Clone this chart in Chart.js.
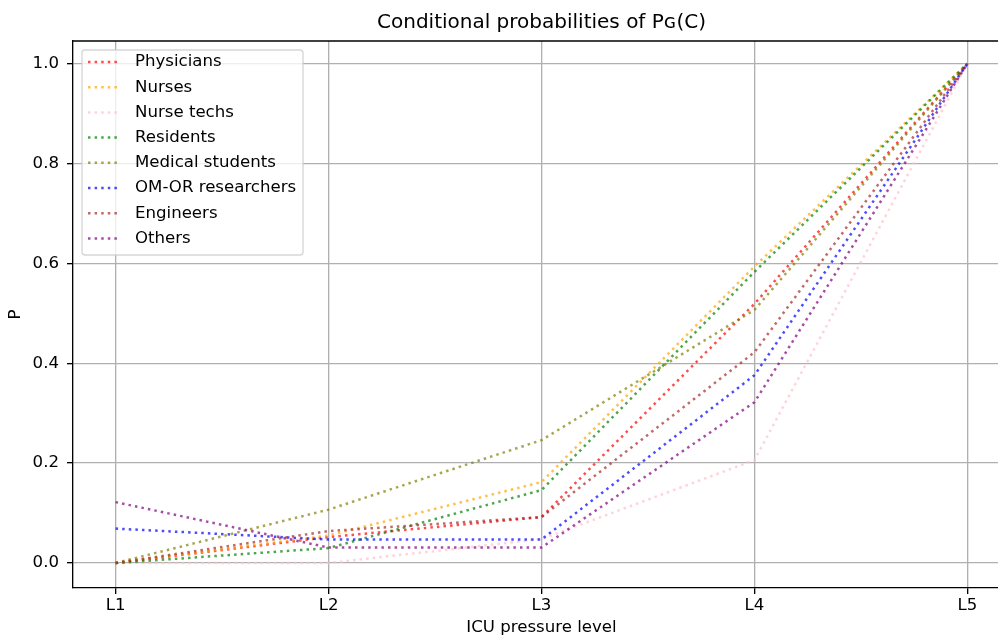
<!DOCTYPE html>
<html><head><meta charset="utf-8">
<script src="https://cdn.jsdelivr.net/npm/chart.js@4"></script>
<style>html,body{margin:0;padding:0;overflow:hidden;background:#fff;width:998px;height:639px}
#wrap{width:998px;height:639px;overflow:hidden;position:relative}
canvas{display:block;position:absolute;left:0;top:0}</style>
</head><body>
<div id="wrap"><canvas id="c" width="1040" height="639" style="width:1040px;height:639px"></canvas></div>
<script>
const levels = ['L1','L2','L3','L4','L5'];
const yTickValues = [0, 0.2, 0.4, 0.6, 0.8, 1.0];
const seriesNames = ['Physicians','Nurses','Nurse techs','Residents','Medical students','OM-OR researchers','Engineers','Others'];
const physicians      = [0.000, 0.052, 0.092, 0.519, 1.0];
const nurses          = [0.000, 0.055, 0.162, 0.594, 1.0];
const nurseTechs      = [0.000, 0.000, 0.048, 0.206, 1.0];
const residents       = [0.000, 0.030, 0.146, 0.583, 1.0];
const medicalStudents = [0.000, 0.107, 0.246, 0.507, 1.0];
const omOrResearchers = [0.069, 0.047, 0.047, 0.376, 1.0];
const engineers       = [0.000, 0.064, 0.092, 0.422, 1.0];
const others          = [0.122, 0.031, 0.031, 0.322, 1.0];
const seriesValues = [physicians, nurses, nurseTechs, residents, medicalStudents, omOrResearchers, engineers, others];
const lineColors = ['rgba(255,0,0,0.7)','rgba(255,165,0,0.7)','rgba(255,192,203,0.7)','rgba(0,128,0,0.7)',
                    'rgba(128,128,0,0.7)','rgba(0,0,255,0.7)','rgba(165,42,42,0.7)','rgba(128,0,128,0.7)'];
const FONT = 'DejaVu Sans';
const FS = 16.6;
const DASH = [2.5, 4.1];

const datasets = seriesNames.map((name, i) => ({
  label: name,
  data: seriesValues[i].map((v, j) => ({x: j, y: v})),
  borderColor: lineColors[i],
  backgroundColor: lineColors[i],
  borderWidth: 2.5,
  borderDash: DASH,
  borderCapStyle: 'butt',
  pointRadius: 0,
  tension: 0,
  fill: false,
  order: seriesNames.length - i
}));

const mplDecor = {
  id: 'mplDecor',
  afterDatasetsDraw(chart) {
    const ctx = chart.ctx, a = chart.chartArea;
    ctx.save();
    // top spine
    ctx.strokeStyle = '#000'; ctx.lineWidth = 1.33;
    ctx.beginPath(); ctx.moveTo(a.left, a.top); ctx.lineTo(a.right, a.top); ctx.stroke();
    // legend
    const x0 = a.left + 9, y0 = a.top + 9, w = 221, h = 205, r = 3;
    ctx.beginPath();
    ctx.moveTo(x0 + r, y0); ctx.lineTo(x0 + w - r, y0); ctx.arcTo(x0 + w, y0, x0 + w, y0 + r, r);
    ctx.lineTo(x0 + w, y0 + h - r); ctx.arcTo(x0 + w, y0 + h, x0 + w - r, y0 + h, r);
    ctx.lineTo(x0 + r, y0 + h); ctx.arcTo(x0, y0 + h, x0, y0 + h - r, r);
    ctx.lineTo(x0, y0 + r); ctx.arcTo(x0, y0, x0 + r, y0, r); ctx.closePath();
    ctx.fillStyle = 'rgba(255,255,255,0.8)'; ctx.fill();
    ctx.strokeStyle = 'rgba(204,204,204,0.8)'; ctx.lineWidth = 1.33; ctx.stroke();
    ctx.font = FS + 'px "' + FONT + '"';
    ctx.textBaseline = 'middle'; ctx.textAlign = 'left';
    chart.data.datasets.forEach((ds, i) => {
      const y = y0 + 12 + i * 25.2;
      ctx.beginPath(); ctx.setLineDash(DASH); ctx.lineWidth = 2.5; ctx.lineCap = 'butt';
      ctx.strokeStyle = ds.borderColor;
      ctx.moveTo(x0 + 6, y); ctx.lineTo(x0 + 39, y); ctx.stroke();
      ctx.setLineDash([]);
      ctx.fillStyle = '#000';
      ctx.fillText(ds.label, x0 + 53, y);
    });
    // title
    ctx.font = '20px "' + FONT + '"';
    ctx.textAlign = 'center'; ctx.textBaseline = 'middle';
    ctx.fillText('Conditional probabilities of P\u0262(C)', (a.left + a.right) / 2, 22.5);
    ctx.restore();
  }
};

Chart.defaults.font.family = FONT;
Chart.defaults.font.size = FS;
Chart.defaults.color = '#000';

new Chart(document.getElementById('c'), {
  type: 'line',
  data: { datasets },
  plugins: [mplDecor],
  options: {
    responsive: false,
    animation: false,
    devicePixelRatio: 1,
    layout: { padding: { top: 41, left: 0, right: 30, bottom: 0 } },
    plugins: { legend: { display: false }, title: { display: false }, tooltip: { enabled: false } },
    scales: {
      x: {
        type: 'linear', min: -0.2, max: 4.2,
        afterBuildTicks: s => { s.ticks = levels.map((_, i) => ({ value: i })); },
        afterFit: s => { s.height = 51; },
        ticks: { callback: v => levels[v], padding: 2, maxRotation: 0, autoSkip: false, color: '#000' },
        grid: { color: '#b0b0b0', lineWidth: 1.33, tickColor: '#000', tickLength: 6, drawTicks: true },
        border: { color: '#000', width: 1.33 },
        title: { display: true, text: 'ICU pressure level', padding: { top: 0, bottom: 1 }, color: '#000' }
      },
      y: {
        type: 'linear', min: -0.05, max: 1.0453,
        afterBuildTicks: s => { s.ticks = yTickValues.map(v => ({ value: v })); },
        afterFit: s => { s.width = 73; },
        ticks: { callback: v => v.toFixed(1), padding: 8, color: '#000' },
        grid: { color: '#b0b0b0', lineWidth: 1.33, tickColor: '#000', tickLength: 6, drawTicks: true },
        border: { color: '#000', width: 1.33 },
        title: { display: true, text: 'P', padding: { top: 6, bottom: 0 }, color: '#000' }
      }
    }
  }
});
</script>
</body></html>
